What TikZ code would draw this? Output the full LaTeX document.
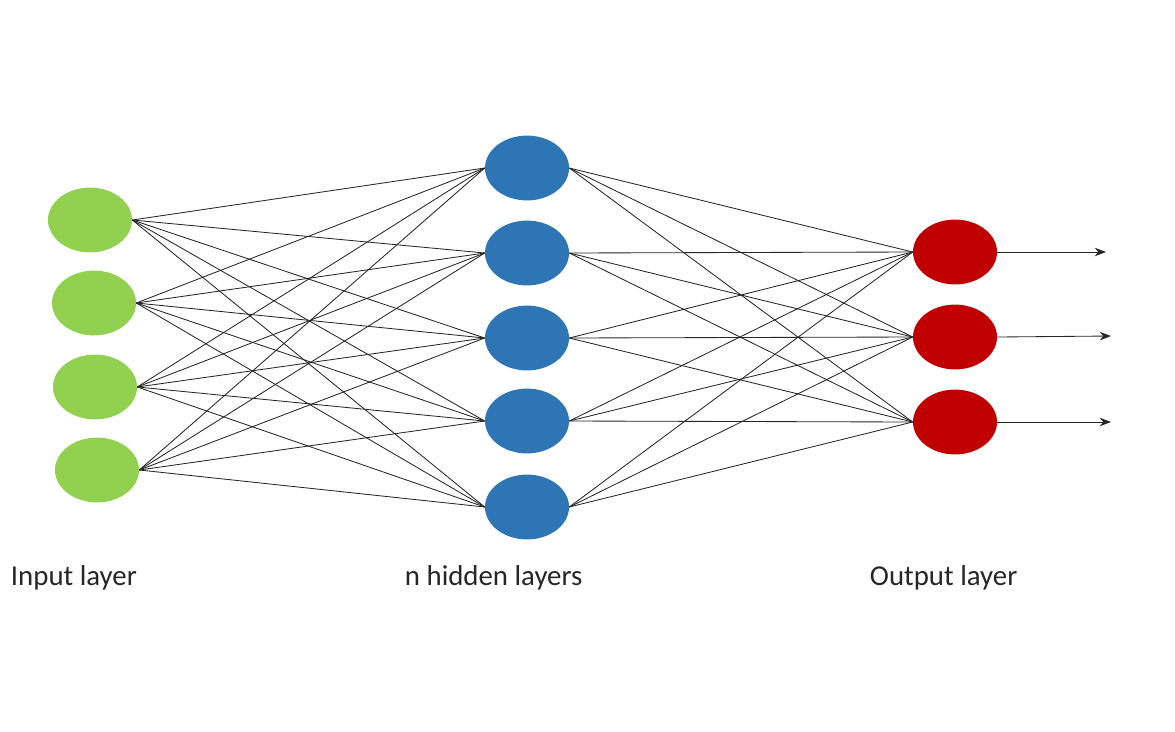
\documentclass[tikz,border=0pt]{standalone}
\usepackage{fontspec}
\setmainfont{Carlito}
\usepackage{tikz}
\usetikzlibrary{arrows.meta,positioning,shapes.geometric}
\definecolor{inGreen}{RGB}{146,208,80}
\definecolor{hidBlue}{RGB}{46,117,182}
\definecolor{outRed}{RGB}{192,0,0}

\begin{document}
\begin{tikzpicture}[x=0.025cm, y=-0.025cm,
    neuron/.style={ellipse, minimum width=2.1cm, minimum height=1.62cm, inner sep=0pt},
    link/.style={black!85, line width=0.6pt},
    layerlabel/.style={anchor=west, font=\fontsize{20.5}{24}\selectfont, text=black!85}]
    \useasboundingbox (0,0) rectangle (1175,731);
    % input layer
    \foreach \i/\x/\y in {1/90/220, 2/94/303, 3/95/387, 4/97/470}
      \node[neuron, fill=inGreen] (in\i) at (\x,\y) {};
    % hidden layer
    \foreach \j/\y in {1/168, 2/253, 3/338, 4/421, 5/507}
      \node[neuron, fill=hidBlue] (hid\j) at (527,\y) {};
    % output layer
    \foreach \k/\y in {1/252, 2/337, 3/422}
      \node[neuron, fill=outRed] (out\k) at (955,\y) {};
    % fully connected links
    \foreach \i in {1,...,4}
      \foreach \j in {1,...,5}
        \draw[link] (in\i.east) -- (hid\j.west);
    \foreach \j in {1,...,5}
      \foreach \k in {1,...,3}
        \draw[link] (hid\j.east) -- (out\k.west);
    % outputs
    \coordinate (end1) at (1106,252);
    \coordinate (end2) at (1111,336);
    \coordinate (end3) at (1111,422);
    \foreach \k in {1,2,3}
      \draw[link, -{Stealth[length=8pt,width=6pt]}] (out\k.east) -- (end\k);
    % labels
    \node[layerlabel] (inlabel) at (6,578) {Input layer};
    \node[layerlabel] (hidlabel) at (400,578) {n hidden layers};
    \node[layerlabel] (outlabel) at (865,578) {Output layer};
  \end{tikzpicture}
\end{document}
